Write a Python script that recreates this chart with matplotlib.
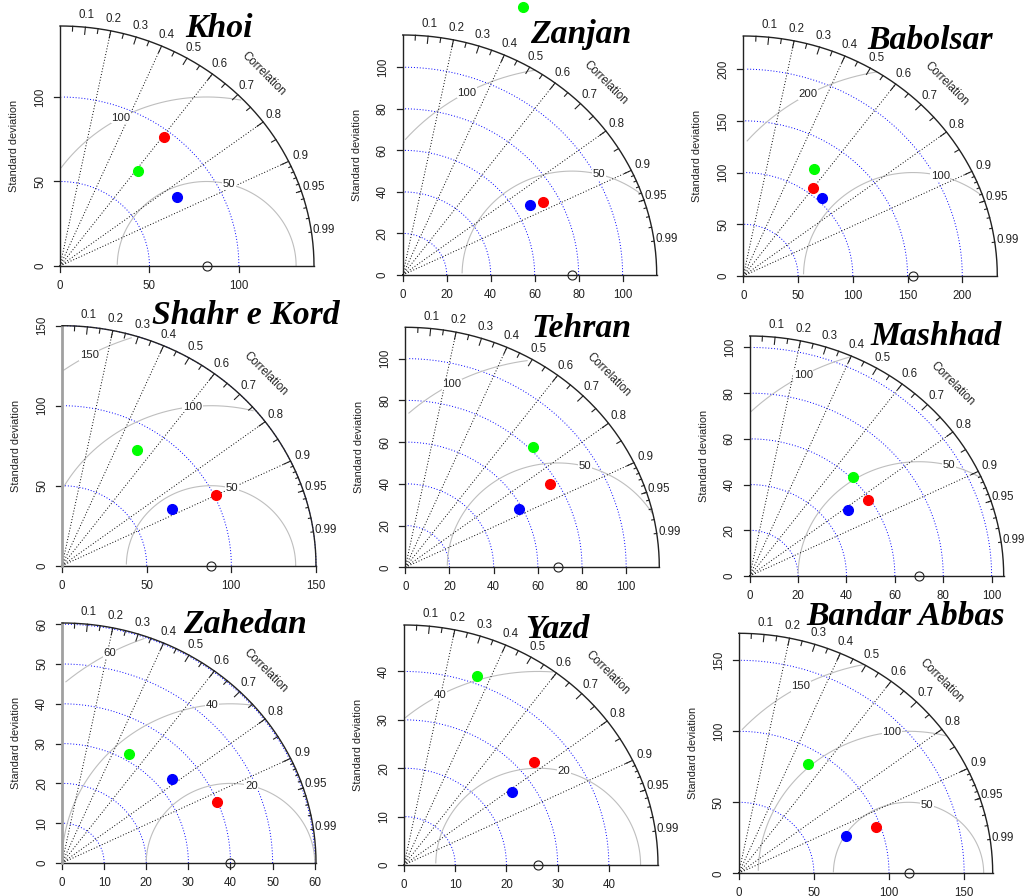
import numpy as np
import matplotlib
matplotlib.use("Agg")
import matplotlib.pyplot as plt

# ---------------- data ----------------
stations = ["Khoi", "Zanjan", "Babolsar",
            "Shahr e Kord", "Tehran", "Mashhad",
            "Zahedan", "Yazd", "Bandar Abbas"]
ref_sd = [82, 77, 155, 88, 69, 70, 40, 26.2, 113]
max_sd = [142, 115.5, 232, 150, 115, 105, 60.3, 49.6, 169]
axis_ticks = [[0, 50, 100],
              [0, 20, 40, 60, 80, 100],
              [0, 50, 100, 150, 200],
              [0, 50, 100, 150],
              [0, 20, 40, 60, 80, 100],
              [0, 20, 40, 60, 80, 100],
              [0, 10, 20, 30, 40, 50, 60],
              [0, 10, 20, 30, 40],
              [0, 50, 100, 150]]
rms_levels = [[50, 100], [50, 100], [100, 200],
              [50, 100, 150], [50, 100], [50, 100],
              [20, 40, 60], [20, 40], [50, 100, 150]]

red_sd = [95.7, 72.8, 106.3, 101.0, 76.6, 59.0, 39.9, 33.1, 97.0]
red_cor = [0.605, 0.876, 0.596, 0.900, 0.853, 0.827, 0.923, 0.765, 0.941]
green_sd = [71.1, 140.2, 121.9, 84.7, 81.8, 60.8, 31.8, 41.5, 89.8]
green_cor = [0.616, 0.390, 0.532, 0.524, 0.709, 0.702, 0.503, 0.344, 0.512]
blue_sd = [77.0, 66.7, 103.7, 74.2, 58.6, 49.6, 33.6, 25.9, 76.1]
blue_cor = [0.850, 0.865, 0.690, 0.877, 0.877, 0.816, 0.779, 0.812, 0.937]

corr_labels = [0.1, 0.2, 0.3, 0.4, 0.5, 0.6, 0.7, 0.8, 0.9, 0.95, 0.99]
corr_lines = [0.2, 0.4, 0.6, 0.8, 0.9]

# ---------------- layout (pixels) ----------------
W, H = 1024, 896
PW, PH = 254, 240
origins = [(60, 266), (402.7, 275), (743.3, 276),
           (62, 565.7), (405.3, 567.3), (749.7, 576),
           (62, 863), (404, 865), (738.7, 873.3)]
title_pos = [(185, 37.3), (530, 43.3), (867.7, 49.3),
             (151.7, 324), (531.7, 337.3), (870, 345),
             (183.3, 633.3), (525, 638.3), (806.7, 625)]
gray_yaxis = {3, 6}

TXT = "#222222"
FONT = "Liberation Sans"
plt.rcParams['font.family'] = [FONT, 'DejaVu Sans']

fig = plt.figure(figsize=(W / 100, H / 100), dpi=100)
fig.patch.set_facecolor("white")

series = [(red_sd, red_cor, "#FF0000"),
          (green_sd, green_cor, "#00FF00"),
          (blue_sd, blue_cor, "#0000FF")]

for i, name in enumerate(stations):
    ox, oy = origins[i]
    ax = fig.add_axes([ox / W, 1 - oy / H, PW / W, PH / H])
    m = max_sd[i]
    ax.set_xlim(0, m)
    ax.set_ylim(0, m)
    ax.axis("off")
    dx = m / PW
    dy = m / PH
    kw = dict(clip_on=False)

    # correlation rays
    for c in corr_lines:
        ax.plot([0, m * c], [0, m * np.sqrt(1 - c * c)], color="black",
                lw=0.7, dashes=(1, 2), zorder=2, **kw)
    # axis lines
    ax.plot([0, m], [0, 0], color=TXT, lw=1.0, zorder=3, **kw)
    if i in gray_yaxis:
        ax.plot([0, 0], [0, m], color="#A0A0A0", lw=2.0, zorder=3, **kw)
    else:
        ax.plot([0, 0], [0, m], color=TXT, lw=1.0, zorder=3, **kw)
    for t in axis_ticks[i]:
        ax.plot([t, t], [0, -6 * dy], color=TXT, lw=0.9, **kw)
        ax.text(t, -20 * dy, f"{t:g}", ha="center", va="center",
                fontsize=8.3, color=TXT, **kw)
        ax.plot([0, -6 * dx], [t, t], color=TXT, lw=0.9, **kw)
        ax.text(-20 * dx, t, f"{t:g}", ha="center", va="center",
                rotation=90, fontsize=8.3, color=TXT, **kw)
    ax.text(-46 * dx, m / 2, "Standard deviation", rotation=90,
            ha="center", va="center", fontsize=7.9, color=TXT, **kw)

    # sd arcs (blue dotted)
    a = np.arange(0, np.pi / 2, 0.03)
    for s in axis_ticks[i][1:]:
        ax.plot(s * np.cos(a), s * np.sin(a), color="blue", lw=0.7,
                dashes=(1, 2), zorder=1, **kw)

    # rms arcs (gray) with labels
    r = ref_sd[i]
    g_ang = np.arange(0, np.pi, 0.03)
    levels = rms_levels[i]
    labpos = [int(v) for v in np.linspace(45, 70, len(levels))]
    for g, lp in zip(levels, labpos):
        xc = r + g * np.cos(g_ang)
        yc = g * np.sin(g_ang)
        neg = np.where(xc < 0)[0]
        end = neg.min() if len(neg) else len(xc)
        outside = np.where(xc ** 2 + yc ** 2 > m * m)[0]
        start = outside.max() + 1 if len(outside) else 0
        ax.plot(xc[start:end], yc[start:end], color="#BEBEBE", lw=0.8,
                zorder=1, **kw)
        k = lp - 1
        if xc[k] > 0:
            ax.text(xc[k], yc[k], f"{g:g}", ha="center", va="center",
                    fontsize=8.2, color=TXT, zorder=2.5,
                    bbox=dict(boxstyle="square,pad=0.05", fc="white",
                              ec="none"), **kw)

    # outer arc and correlation ticks
    oa = np.linspace(0, np.pi / 2, 200)
    ax.plot(m * np.cos(oa), m * np.sin(oa), color=TXT, lw=1.0, zorder=3, **kw)
    for vals, f in ((np.arange(1, 10) / 10, 0.97),
                    (np.arange(5, 100, 10) / 100, 0.98),
                    (np.arange(91, 100) / 100, 0.99)):
        for v in vals:
            s = np.sqrt(1 - v * v)
            ax.plot([m * v, f * m * v], [m * s, f * m * s], color=TXT,
                    lw=0.8, zorder=3, **kw)
    for v in corr_labels:
        s = np.sqrt(1 - v * v)
        ax.text(1.05 * m * v, 1.05 * m * s, f"{v:g}", ha="center",
                va="center", fontsize=8.3, color=TXT, **kw)
    ax.text(0.8 * m, 0.8 * m, "Correlation", rotation=-45, ha="center",
            va="center", fontsize=8.3, color=TXT, **kw)

    # reference point
    ax.plot([r], [0], marker="o", ms=6.5, mfc="none", mec=TXT, mew=0.8,
            zorder=5, **kw)
    # model points
    for sds, cors, col in series:
        sd = sds[i]
        c = cors[i]
        ax.plot([sd * c], [sd * np.sqrt(1 - c * c)], marker="o", ms=7,
                color=col, ls="none", zorder=6, **kw)

    tx, ty = title_pos[i]
    fig.text(tx / W, 1 - ty / H, name, ha="left", va="baseline",
             fontsize=24.3, fontweight="bold", fontstyle="italic",
             family="Liberation Serif", color="black", zorder=10)

fig.savefig("out.png", dpi=100, facecolor="white")
